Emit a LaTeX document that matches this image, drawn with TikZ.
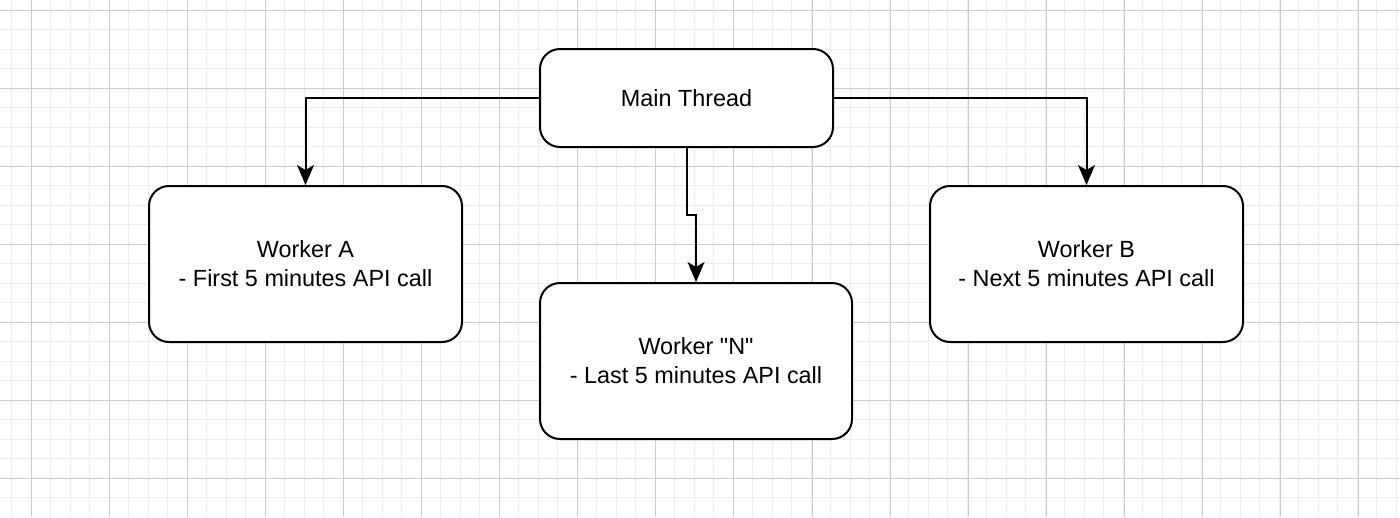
\documentclass[tikz,border=0pt]{standalone}
\usepackage{fontspec}
\setmainfont{Liberation Sans}
\usetikzlibrary{arrows.meta}
\begin{document}
\begin{tikzpicture}[x=1pt,y=-1pt,
  box/.style={draw=black,line width=2pt,rounded corners=20pt,fill=white,
    inner sep=0pt,align=center,font=\fontsize{23.4}{29}\selectfont},
  arr/.style={draw=black,line width=2pt,-{Stealth[length=20pt,width=17pt,inset=5pt]}},
  minorgrid/.style={draw=black!7,line width=1pt},
  majorgrid/.style={draw=black!20,line width=1pt}]
\useasboundingbox (0,0) rectangle (1400,517);
\fill[white] (0,0) rectangle (1400,517);
% grid
\foreach \i in {0,...,72} {
  \draw[minorgrid] ({11.5+19.5*\i},0) -- ({11.5+19.5*\i},517);
}
\foreach \i in {0,...,26} {
  \draw[minorgrid] (0,{-9.5+19.5*\i}) -- (1400,{-9.5+19.5*\i});
}
\foreach \i in {0,...,17} {
  \draw[majorgrid] ({31+78.1*\i},0) -- ({31+78.1*\i},517);
}
\foreach \i in {0,...,6} {
  \draw[majorgrid] (0,{10+78*\i}) -- (1400,{10+78*\i});
}
% nodes
\node[box,minimum width=293pt,minimum height=98pt] (main) at (686.5,98) {Main Thread};
\node[box,minimum width=313pt,minimum height=156pt] (wa) at (305.5,264) {Worker A\\- First 5 minutes API call};
\node[box,minimum width=312pt,minimum height=156pt] (wn) at (696,361) {Worker \textquotedbl N\textquotedbl\\- Last 5 minutes API call};
\node[box,minimum width=313pt,minimum height=156pt] (wb) at (1086.5,264) {Worker B\\- Next 5 minutes API call};
\coordinate (jog) at (696,215);
% connectors
\draw[arr] (main.west) -| (wa.north);
\draw[arr] (main.east) -| (wb.north);
\draw[arr] (main.south) |- (jog) -- (wn.north);
\end{tikzpicture}
\end{document}
